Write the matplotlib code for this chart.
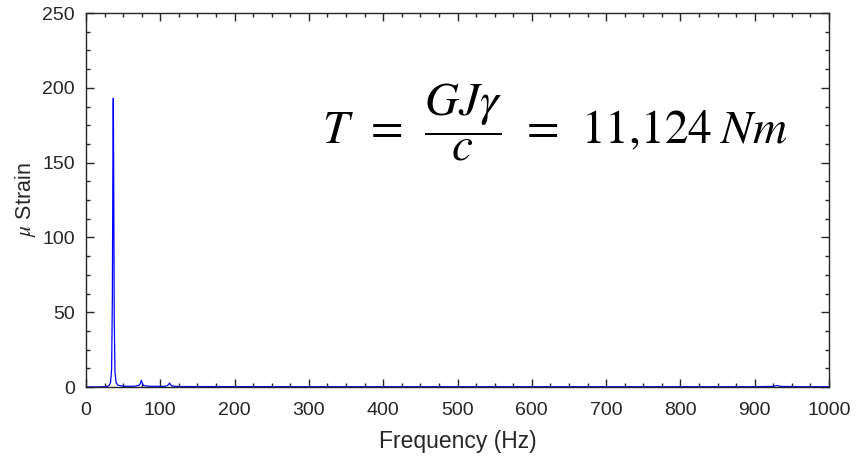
import matplotlib
matplotlib.use("Agg")
import matplotlib.pyplot as plt
from matplotlib.ticker import MultipleLocator

# Spectrum samples (Hz, micro strain)
freq = [0, 20, 28, 31, 33, 34.5, 35.5, 36.2, 36.7, 37.2, 38.0, 39.0, 40.5, 43, 50,
        65, 71, 73, 74.5, 75.5, 77, 79, 85, 105, 109, 111, 112.5, 114, 116, 125,
        300, 600, 900, 925, 930, 935, 960, 1000]
strain = [0, 0.1, 0.3, 1.0, 3.0, 12.0, 60.0, 150.0, 193.0, 150.0, 45.0, 10.0, 3.0, 1.2, 0.5,
          0.5, 1.0, 2.2, 4.5, 3.0, 1.2, 0.8, 0.5, 0.4, 0.8, 1.6, 2.6, 1.4, 0.6, 0.3,
          0.2, 0.2, 0.2, 0.4, 1.0, 0.4, 0.2, 0.2]

x_ticks = [0, 100, 200, 300, 400, 500, 600, 700, 800, 900, 1000]
y_ticks = [0, 50, 100, 150, 200, 250]

plt.rcParams['font.family'] = ['Liberation Sans', 'DejaVu Sans']
plt.rcParams['mathtext.fontset'] = 'stix'

fig = plt.figure(figsize=(8.56, 4.59), dpi=100)
ax = fig.add_axes([86/856, 1-387/459, (829-86)/856, (387-13)/459])

ax.plot(freq, strain, color=(0, 0, 1), lw=0.9)

ax.set_xlim(0, 1000)
ax.set_ylim(0, 250)
ax.set_xticks(x_ticks)
ax.set_yticks(y_ticks)
ax.xaxis.set_minor_locator(MultipleLocator(25))
ax.yaxis.set_minor_locator(MultipleLocator(12.5))
ax.tick_params(which='both', direction='in', top=True, right=True,
               color='#262626', width=1.0, labelsize=14, labelcolor='#262626')
ax.tick_params(which='major', length=5.5)
ax.tick_params(axis='x', which='major', pad=11)
ax.tick_params(axis='y', which='major', pad=8)
ax.tick_params(which='minor', length=2.8)
for s in ax.spines.values():
    s.set_color('#262626')
    s.set_linewidth(1.0)

ax.set_xlabel('Frequency (Hz)', fontsize=16.5, color='#262626', labelpad=8)
ax.set_ylabel(r'$\mu$ Strain', fontsize=15.5, color='#262626', labelpad=3)

ax.text(0.631, 0.707, r'$T\;\,=\;\,\dfrac{GJ\gamma}{c}\;\,=\;\,11{,}124\;Nm$',
        transform=ax.transAxes, ha='center', va='center', fontsize=34, color='black')

fig.savefig('out.png', dpi=100)
